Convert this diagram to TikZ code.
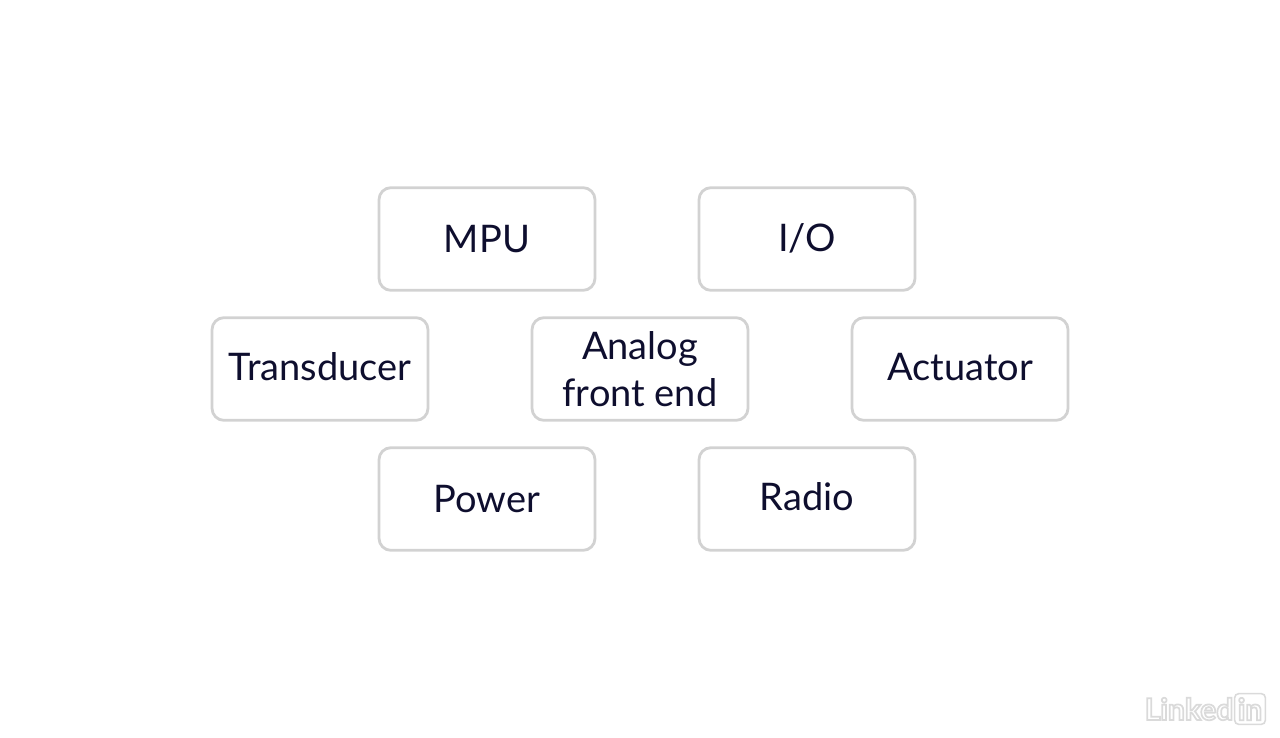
\documentclass[tikz,border=0pt]{standalone}
\usepackage{fontspec}
\setmainfont{Lato}
\definecolor{boxline}{RGB}{210,210,210}
\definecolor{boxtext}{RGB}{14,14,46}
\definecolor{logoline}{RGB}{218,218,218}
\newcommand{\outlined}[1]{\special{pdf:code q 1 Tr 1.3 w}#1\special{pdf:code 0 Tr Q}}
\tikzset{
  unit/.style={rectangle,rounded corners=9pt,draw=boxline,line width=2.1pt,
    minimum width=162pt,minimum height=77pt,align=center,
    text=boxtext,font=\fontsize{28.5}{35.5}\selectfont},
  logo/.style={inner sep=0pt,text=logoline,font=\fontsize{22.5}{22.5}\selectfont\bfseries}
}
\begin{document}
\begin{tikzpicture}[x=0.75pt,y=-0.75pt]
  \useasboundingbox (0,0) rectangle (1280,738);
  \node[unit] (mpu) at(487,239) {\raisebox{-1.2pt}{MPU}};
  \node[unit] (io) at(807,239) {\raisebox{2pt}{I/O}};
  \node[unit] (trans) at(320,369) {\raisebox{3pt}{Transducer}};
  \node[unit] (afe) at(640,369) {\raisebox{-2.7pt}{\parbox{120pt}{\centering Analog\\front end}}};
  \node[unit] (act) at(960,369) {\raisebox{3pt}{Actuator}};
  \node[unit] (power) at(487,499) {\raisebox{-2pt}{Power}};
  \node[unit] (radio) at(807,499) {\raisebox{3pt}{Radio}};
  \node[logo] (linked) at(1189,709) {\outlined{Linked}};
  \node[logo,draw=logoline,line width=1.2pt,rounded corners=3pt,minimum width=23pt,minimum height=23pt] (logoin) at(1250,709) {\outlined{in}};
\end{tikzpicture}
\end{document}
